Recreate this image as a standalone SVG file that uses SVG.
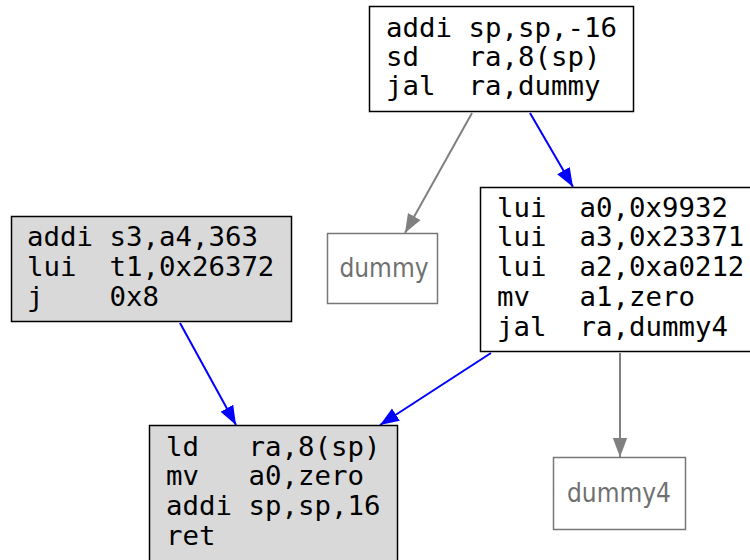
<svg xmlns="http://www.w3.org/2000/svg" width="750" height="560" viewBox="0 0 750 560">
<defs>
<marker id="ab" viewBox="0 0 10 10" refX="10" refY="5" markerWidth="19" markerHeight="19" markerUnits="userSpaceOnUse" orient="auto"><path d="M0,1.2 L10,5 L0,8.8 z" fill="#0000ff"/></marker>
<marker id="ag" viewBox="0 0 10 10" refX="10" refY="5" markerWidth="19" markerHeight="19" markerUnits="userSpaceOnUse" orient="auto"><path d="M0,1.2 L10,5 L0,8.8 z" fill="#808080"/></marker>
<style>
.code{font-family:"DejaVu Sans Mono","Liberation Mono",monospace;font-size:27.4px;fill:#000;white-space:pre}
.lbl{font-family:"DejaVu Sans Condensed","DejaVu Sans","Liberation Sans",sans-serif;font-stretch:condensed;font-size:26px;fill:#707070;text-anchor:middle}
.blk{stroke:#000;stroke-width:1.5}
.ext{fill:#fff;stroke:#777;stroke-width:1.5}
.b{stroke:#0000ff;stroke-width:2;fill:none;marker-end:url(#ab)}
.g{stroke:#808080;stroke-width:2;fill:none;marker-end:url(#ag)}
</style>
</defs>
<rect width="750" height="560" fill="#fff"/>
<g id="edges">
<line class="g" x1="472" y1="113" x2="405" y2="233"/>
<line class="b" x1="530" y1="113" x2="573" y2="187"/>
<line class="b" x1="180" y1="323" x2="236" y2="425"/>
<line class="b" x1="491" y1="353" x2="380" y2="425"/>
<line class="g" x1="620" y1="353" x2="620" y2="457"/>
</g>
<g id="n_top">
<rect class="blk" x="369.5" y="6.5" width="264" height="105" fill="#fff"/>
<text class="code" x="386" y="37">addi sp,sp,-16</text>
<text class="code" x="386" y="66">sd   ra,8(sp)</text>
<text class="code" x="386" y="95">jal  ra,dummy</text>
</g>
<g id="n_left">
<rect class="blk" x="11.5" y="216.5" width="280" height="105" fill="#d9d9d9"/>
<text class="code" x="27" y="246">addi s3,a4,363</text>
<text class="code" x="27" y="276">lui  t1,0x26372</text>
<text class="code" x="27" y="306">j    0x8</text>
</g>
<g id="n_right">
<rect class="blk" x="480.5" y="187.5" width="275" height="164" fill="#fff"/>
<text class="code" x="497" y="217">lui  a0,0x9932</text>
<text class="code" x="497" y="246">lui  a3,0x23371</text>
<text class="code" x="497" y="276">lui  a2,0xa0212</text>
<text class="code" x="497" y="306">mv   a1,zero</text>
<text class="code" x="497" y="336">jal  ra,dummy4</text>
</g>
<g id="n_bottom">
<rect class="blk" x="149.5" y="425.5" width="248" height="145" fill="#d9d9d9"/>
<text class="code" x="166" y="456">ld   ra,8(sp)</text>
<text class="code" x="166" y="485">mv   a0,zero</text>
<text class="code" x="166" y="515">addi sp,sp,16</text>
<text class="code" x="166" y="545">ret</text>
</g>
<g id="n_dummy">
<rect class="ext" x="327.5" y="233.5" width="110" height="70"/>
<text class="lbl" x="384" y="277">dummy</text>
</g>
<g id="n_dummy4">
<rect class="ext" x="553.5" y="457.5" width="132" height="72"/>
<text class="lbl" x="619" y="502">dummy4</text>
</g>
</svg>
